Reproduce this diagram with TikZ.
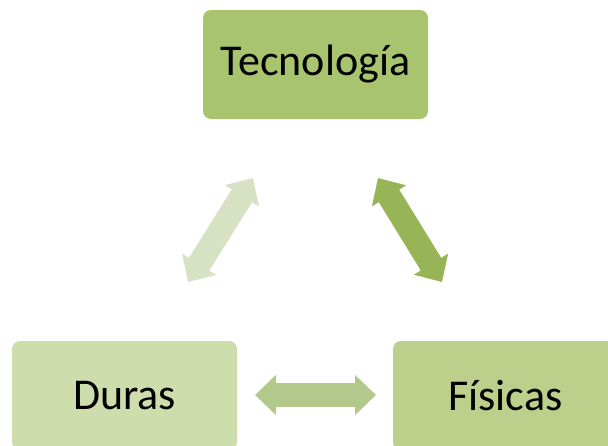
\documentclass[tikz,border=0pt]{standalone}
\usepackage{fontspec}
\setmainfont{Carlito}
\usetikzlibrary{arrows.meta}
\definecolor{tecgreen}{RGB}{168,196,110}
\definecolor{durgreen}{RGB}{206,221,172}
\definecolor{fisgreen}{RGB}{188,208,140}
\definecolor{lightarr}{RGB}{215,226,197}
\definecolor{darkarr}{RGB}{151,180,86}
\definecolor{midarr}{RGB}{179,201,140}
\tikzset{
  box/.style = {rounded corners=8pt, minimum width=225pt, minimum height=109pt,
                inner sep=0pt, font=\fontsize{44}{52}\selectfont},
  fat/.style = {line width=24pt,
                {Triangle[length=21pt, width=39pt]}-{Triangle[length=21pt, width=39pt]}}
}
\begin{document}
\begin{tikzpicture}[x=1pt, y=-1pt]
          \clip (0,0) rectangle (608,445);
          \fill[white] (0,0) rectangle (608,445);
          \node[box, fill=tecgreen] (tec) at (315.5,64.5) {Tecnología};
          \node[box, fill=durgreen] (dur) at (124.5,395.5) {Duras};
          \node[box, fill=fisgreen] (fis) at (505.5,395.5) {Físicas};
          % arrow ends
          \coordinate (la) at (253,178);
          \coordinate (lb) at (188,282);
          \coordinate (ra) at (378,178);
          \coordinate (rb) at (442,282);
          \coordinate (ba) at (255,395);
          \coordinate (bb) at (376,395);
          \draw[fat, lightarr] (la) -- (lb);
          \draw[fat, darkarr] (ra) -- (rb);
          \draw[fat, midarr] (ba) -- (bb);
        \end{tikzpicture}
\end{document}
